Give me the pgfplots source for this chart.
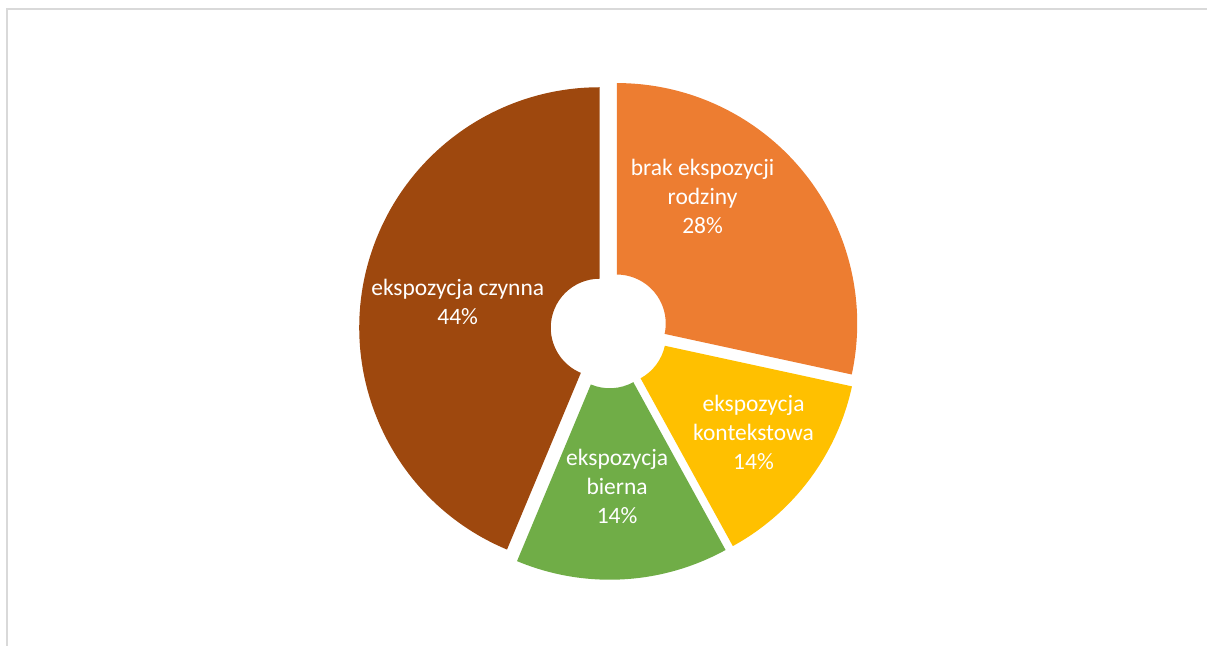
\documentclass[border=0pt]{standalone}
\usepackage{pgfplots}
\pgfplotsset{compat=1.18}
\usepackage{pgfplotstable}
\usepackage{fontspec}
\setmainfont{Carlito}
\definecolor{cOrange}{HTML}{ED7D31}
\definecolor{cGold}{HTML}{FFC000}
\definecolor{cGreen}{HTML}{70AD47}
\definecolor{cBrown}{HTML}{9E480E}
\definecolor{frameGray}{HTML}{D9D9D9}
\tikzset{lbl/.style={text=white, align=center, inner sep=0pt,
    font=\fontsize{11.75}{14.5}\selectfont}}

% shares (percent); labels show them rounded
\pgfplotstableread{
name value color
brak 28.4 cOrange
kontekstowa 13.6 cGold
bierna 14.3 cGreen
czynna 43.7 cBrown
}\piedata

\begin{document}
\begin{tikzpicture}
\begin{axis}[x=0.5pt, y=0.5pt, xmin=0, xmax=1208, ymin=0, ymax=646,
  hide axis, clip=false]
\path (axis cs:0,0) rectangle (axis cs:1208,646);
\draw[frameGray, line width=0.75pt] (axis cs:7,0) -- (axis cs:7,637) -- (axis cs:1208,637);
\def\cx{609.6}\def\cy{316.2}
\def\astart{90}
\pgfplotsforeachungrouped \i in {0,1,2,3}{%
  \pgfplotstablegetelem{\i}{value}\of\piedata \let\sval\pgfplotsretval
  \pgfplotstablegetelem{\i}{color}\of\piedata \let\scol\pgfplotsretval
  \pgfmathsetmacro\aend{\astart-3.6*\sval}%
  \pgfmathsetmacro\bis{(\astart+\aend)/2}%
  \pgfmathsetmacro\ox{\cx+9.7*cos(\bis)}%
  \pgfmathsetmacro\oy{\cy+9.7*sin(\bis)}%
  \pgfmathsetmacro\aback{\aend+180}%
  \edef\cmd{\noexpand\fill[\scol] (axis cs:\ox,\oy) ++(\astart:24.5pt) -- ++(\astart:95.8pt)
    arc[start angle=\astart, end angle=\aend, radius=120.3pt]
    -- ++(\aback:95.8pt)
    arc[start angle=\aend, end angle=\astart, radius=24.5pt] -- cycle;}%
  \cmd
  \let\astart\aend
}
\node[lbl] at (axis cs:703,449) {brak ekspozycji\\rodziny\\28\%};
\node[lbl] at (axis cs:754,213) {ekspozycja\\kontekstowa\\14\%};
\node[lbl] at (axis cs:617.5,159) {ekspozycja\\bierna\\14\%};
\node[lbl] at (axis cs:458,343.5) {ekspozycja czynna\\44\%};
\end{axis}
\end{tikzpicture}
\end{document}
